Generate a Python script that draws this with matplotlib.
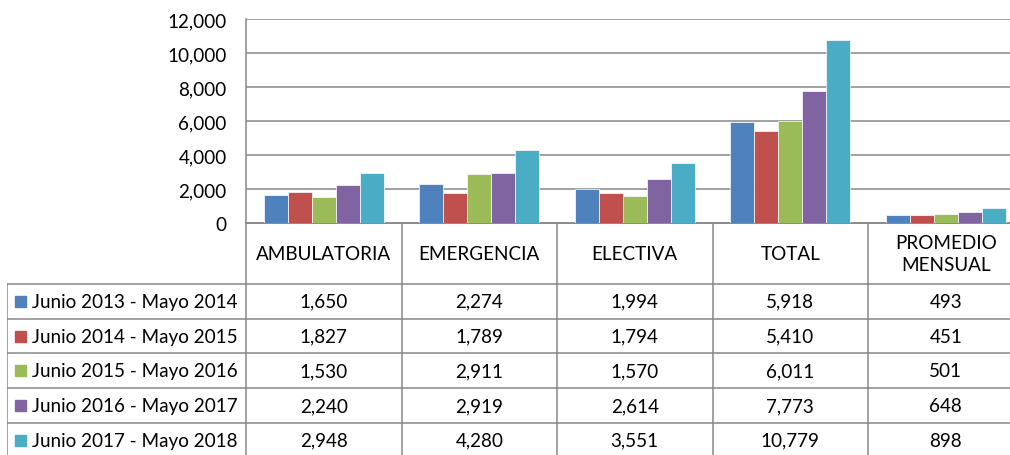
import numpy as np
import matplotlib
matplotlib.use("Agg")
import matplotlib.pyplot as plt
from matplotlib.patches import Rectangle

#-----------------------Data-----------------------#
categories = ["AMBULATORIA", "EMERGENCIA", "ELECTIVA", "TOTAL", "PROMEDIO\nMENSUAL"]
series_names = ["Junio 2013 - Mayo 2014", "Junio 2014 - Mayo 2015",
                "Junio 2015 - Mayo 2016", "Junio 2016 - Mayo 2017",
                "Junio 2017 - Mayo 2018"]
values_2013 = [1650, 2274, 1994, 5918, 493]
values_2014 = [1827, 1789, 1794, 5410, 451]
values_2015 = [1530, 2911, 1570, 6011, 501]
values_2016 = [2240, 2919, 2614, 7773, 648]
values_2017 = [2948, 4280, 3551, 10779, 898]
series_values = [values_2013, values_2014, values_2015, values_2016, values_2017]
yticks = [0, 2000, 4000, 6000, 8000, 10000, 12000]

colors = ["#4F81BD", "#C0504D", "#9BBB59", "#8064A2", "#4BACC6"]
grid_col = "#878787"

plt.rcParams["font.family"] = ["Lato", "DejaVu Sans"]
FS = 13.6

W, H = 1010, 456
fig = plt.figure(figsize=(W / 100, H / 100), dpi=100)

# pixel layout
x_axis = 246
col_w = 155.5
x_right = x_axis + 5 * col_w
y_top, y_zero = 20, 224
x_leg = 7
header_h = 61
row_h = 34.7

#--------------------Chart--------------------#
ax = fig.add_axes([x_axis / W, 1 - y_zero / H, (x_right - x_axis) / W, (y_zero - y_top) / H])
x = np.arange(len(categories))
bw = 24 / col_w
for i, vals in enumerate(series_values):
    ax.bar(x + (i - 2) * bw, vals, width=bw, color=colors[i],
           edgecolor="white", linewidth=0.5, zorder=3)
ax.set_xlim(-0.5, 4.5)
ax.set_ylim(0, 12000)
ax.set_yticks(yticks)
ax.set_yticklabels(["{:,}".format(v) for v in yticks], fontsize=FS)
ax.set_xticks([])
ax.tick_params(axis="y", length=0, pad=14)
ax.grid(axis="y", color=grid_col, linewidth=1.1, zorder=0)
for s in ["top", "right"]:
    ax.spines[s].set_visible(False)
for s in ["left", "bottom"]:
    ax.spines[s].set_color(grid_col)
    ax.spines[s].set_linewidth(1.1)

#--------------------Data table--------------------#
tab_h = H - y_zero
axt = fig.add_axes([x_leg / W, 0, (x_right - x_leg) / W, tab_h / H])
leg_left = -0.5 - (x_axis - x_leg) / col_w
axt.set_xlim(leg_left, 4.5)
axt.set_ylim(tab_h, 0)
axt.axis("off")

lw = 1.1
axt.plot([-0.5, 4.5], [0, 0], color=grid_col, lw=lw)
for k in range(6):
    axt.plot([-0.5 + k, -0.5 + k], [0, tab_h + 5], color=grid_col, lw=lw)
axt.plot([leg_left, leg_left], [header_h, tab_h + 5], color=grid_col, lw=lw)
for r in range(6):
    yy = header_h + r * row_h
    axt.plot([leg_left, 4.5], [yy, yy], color=grid_col, lw=lw)

for j, cat in enumerate(categories):
    axt.text(j, header_h / 2, cat, ha="center", va="center", fontsize=FS,
             linespacing=1.35)

sq = 11 / col_w
for i, (name, vals) in enumerate(zip(series_names, series_values)):
    yc = header_h + (i + 0.5) * row_h
    axt.add_patch(Rectangle((leg_left + 8 / col_w, yc - 5.5), sq, 11,
                            color=colors[i]))
    axt.text(leg_left + 25 / col_w, yc, name, ha="left", va="center", fontsize=FS)
    for j, v in enumerate(vals):
        axt.text(j, yc, "{:,}".format(v), ha="center", va="center", fontsize=FS)

fig.savefig("out.png", dpi=100)
